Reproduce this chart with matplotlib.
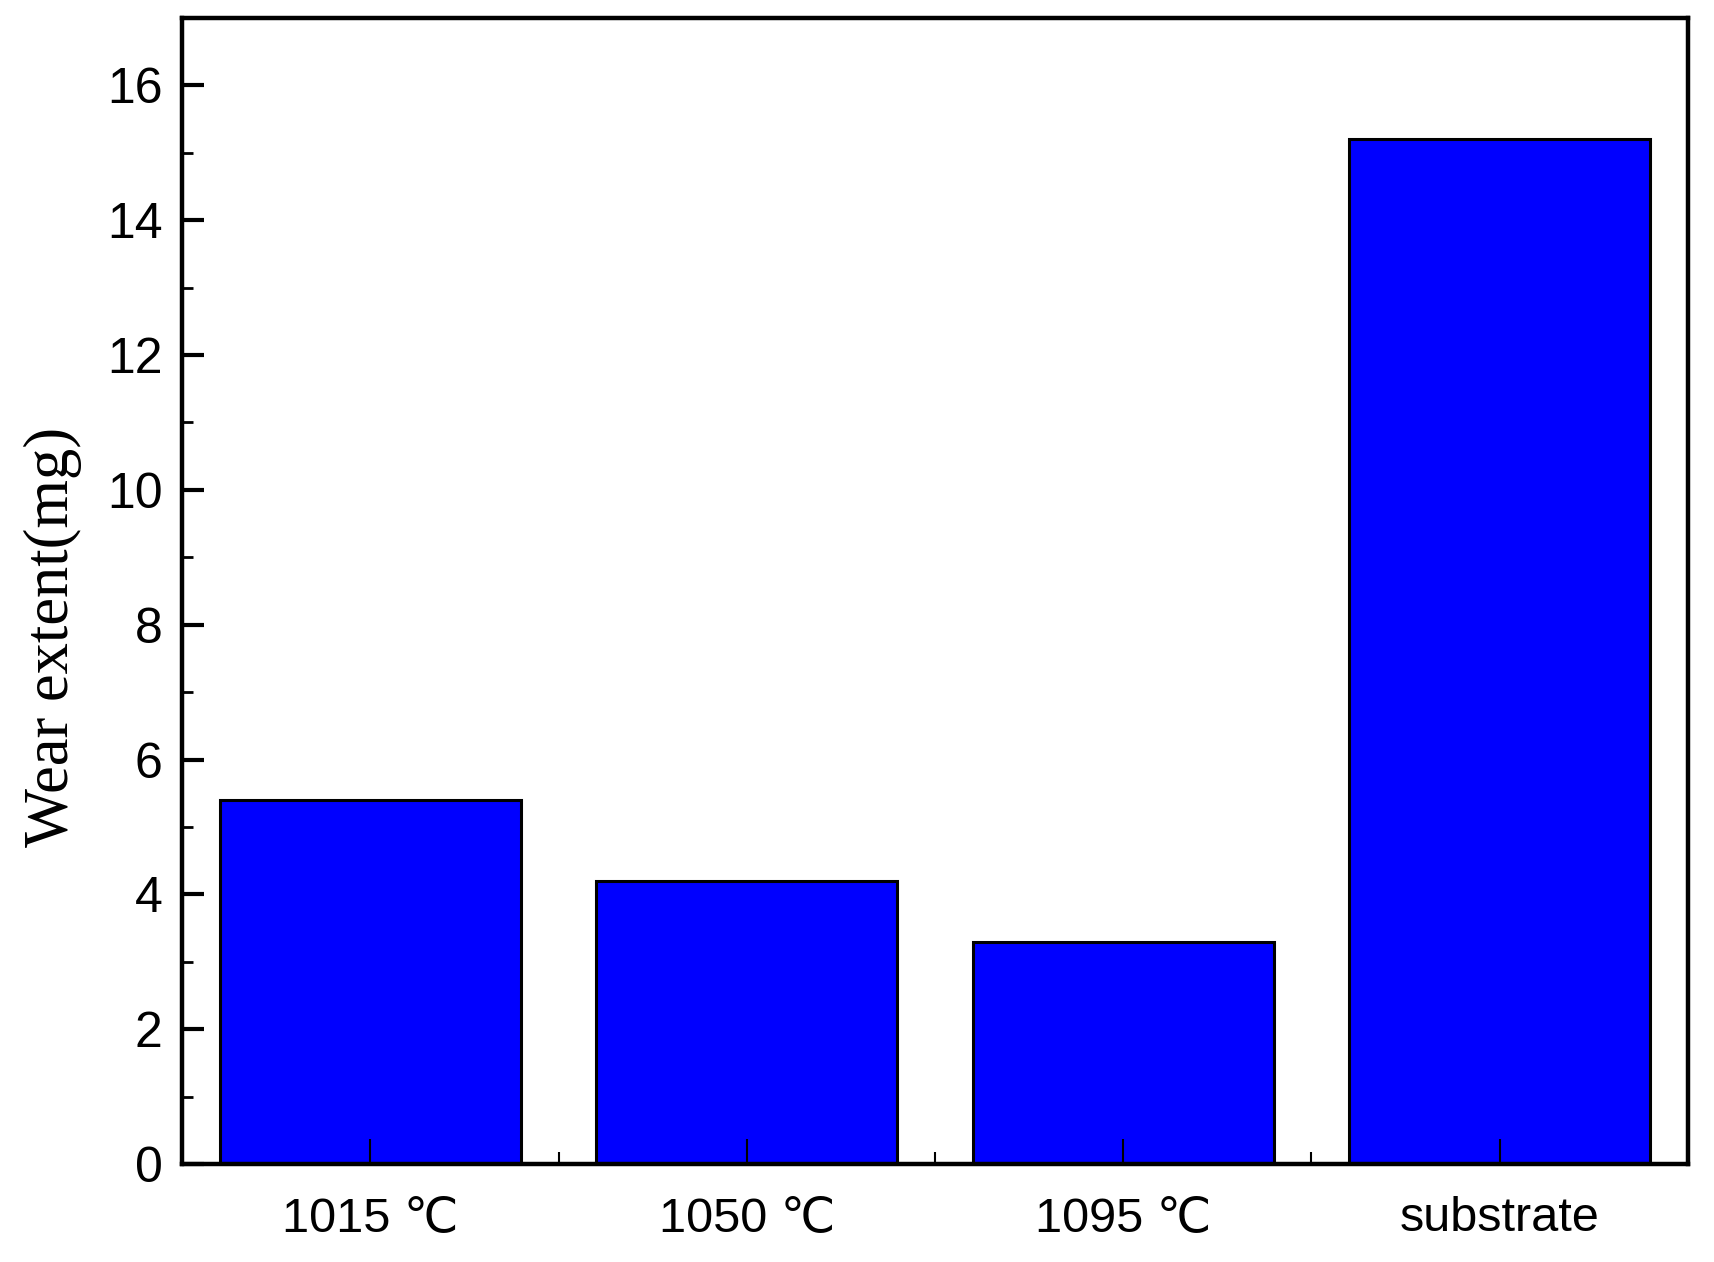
import matplotlib.pyplot as plt
import numpy as np
from matplotlib.ticker import MultipleLocator, FixedLocator

plt.rcParams['font.family'] = ['Liberation Sans', 'DejaVu Sans']

# Datos
categories = ['1015 ℃', '1050 ℃', '1095 ℃', 'substrate']
wear_extent = [5.4, 4.2, 3.3, 15.2]

fig = plt.figure(figsize=(17.14, 12.62), dpi=100)
ax = fig.add_axes([0.1062, 0.0777, 0.8786, 0.908])

x = np.arange(len(categories))
ax.bar(x, wear_extent, width=0.8, color='#0000FF', edgecolor='black', linewidth=2.2)

ax.set_xlim(-0.5, 3.5)
ax.set_ylim(0, 17)

ax.set_xticks(x)
ax.set_xticklabels(categories, fontsize=35)
ax.xaxis.set_minor_locator(FixedLocator([0.5, 1.5, 2.5]))
ax.yaxis.set_major_locator(MultipleLocator(2))
ax.yaxis.set_minor_locator(MultipleLocator(1))

ax.tick_params(axis='both', which='both', direction='in', top=False, right=False)
ax.tick_params(axis='y', which='major', length=16, width=3, pad=14, labelsize=36)
ax.tick_params(axis='y', which='minor', length=8, width=2)
ax.tick_params(axis='x', which='major', length=18, width=1.5, pad=23)
ax.tick_params(axis='x', which='minor', length=9, width=1.5)

for sp in ax.spines.values():
    sp.set_linewidth(3.2)

ax.set_ylabel('Wear extent(mg)', family='Liberation Serif', fontsize=45, labelpad=18)
ax.yaxis.label.set_y(0.46)

fig.savefig('out.png', dpi=100)
